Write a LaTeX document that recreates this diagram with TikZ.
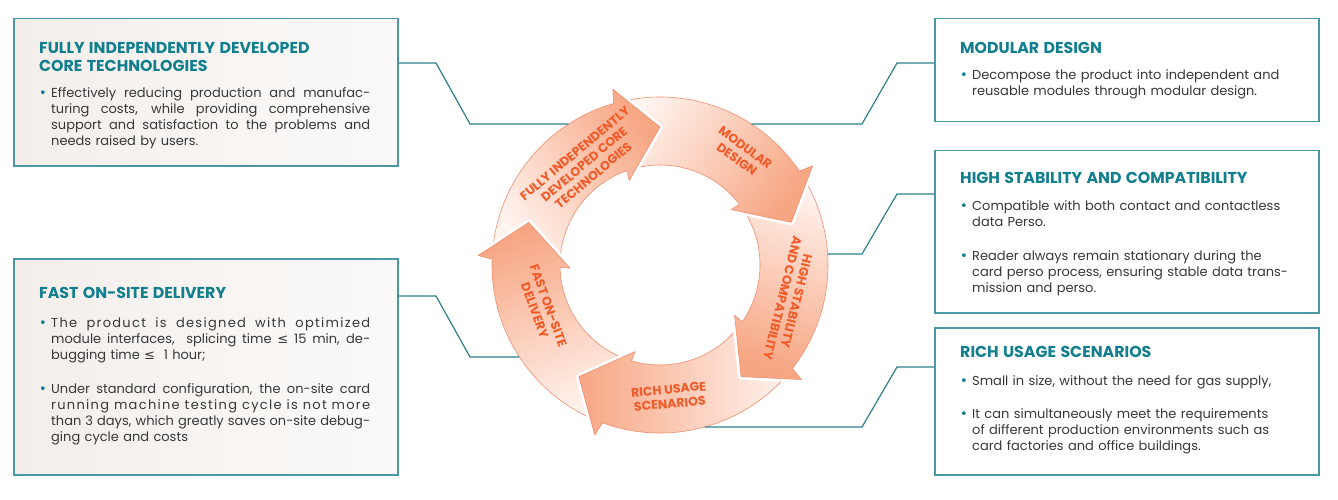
\documentclass[tikz,border=0pt]{standalone}
\usepackage{fontspec}
\setmainfont{Poppins}
\newfontfamily\symf{DejaVu Sans}
\usetikzlibrary{positioning}
\definecolor{headc}{HTML}{127F8E}
\definecolor{framec}{HTML}{4A98A6}
\definecolor{linkc}{HTML}{2E7F8C}
\definecolor{bodyc}{HTML}{383838}
\definecolor{boxl}{HTML}{F4EEEA}
\definecolor{boxr}{HTML}{FBFAF9}
\definecolor{ringlo}{HTML}{FFF3EE}
\definecolor{ringhi}{HTML}{F7A683}
\definecolor{ringline}{HTML}{EE8F70}
\definecolor{ringtxt}{HTML}{F15A29}
\newcommand{\headf}{\fontsize{15.8}{18}\selectfont\bfseries\color{headc}}
\newcommand{\jl}[1]{\makebox[319pt][s]{\spaceskip=\fontdimen2\font plus 1fil\relax #1}\\}
\newcommand{\wide}{\addfontfeature{LetterSpace=10}}
\newcommand{\bul}[2]{\noindent\makebox[12pt][l]{\textcolor{headc}{\symf •}}\parbox[t]{#1}{\strut#2\strut}\par}
\newcommand{\segment}[1]{({#1+86}:168) arc[start angle={#1+86}, end angle={#1+16}, radius=168] -- ({#1+15}:182) -- (#1:138) -- ({#1+20}:90) -- ({#1+19.4}:100) arc[start angle={#1+19.4}, end angle={#1+86}, radius=100] -- cycle}

\begin{document}
\begin{tikzpicture}[x=1pt, y=1pt,
  box/.style={draw=framec, line width=1.5pt, minimum width=384pt, anchor=north west, inner sep=0pt},
  lbox/.style={box, left color=boxl, right color=boxr},
  rbox/.style={box, fill=white},
  txt/.style={text width=345pt, align=left, inner sep=0pt, text=bodyc, font=\fontsize{13}{16}\selectfont},
  seg/.style={top color=ringlo, bottom color=ringhi, draw=ringline, line width=0.6pt, line join=round,
    preaction={draw=white, line width=6pt, line join=round}},
  lab/.style={text=ringtxt, font=\fontsize{12.5}{14.5}\selectfont\bfseries, align=center, inner sep=0pt},
  link/.style={draw=linkc, line width=1.2pt}]
  \useasboundingbox (0,0) rectangle (1338,499);
  \node[lbox, minimum height=147pt] (tl) at (13,481) {};
  \node[lbox, minimum height=216pt] (bl) at (13,241) {};
  \node[rbox, minimum height=103pt] (tr) at (934,481) {};
  \node[rbox, minimum height=162pt] (mr) at (934,349) {};
  \node[rbox, minimum height=147pt] (br) at (934,172) {};
  \node[txt, below right=24.5pt and 26pt of tl.north west] (tlt) {{\headf FULLY INDEPENDENTLY DEVELOPED\\CORE TECHNOLOGIES\par}\vspace{10pt}
    \bul{319pt}{\jl{Effectively reducing production and manufac-}\jl{turing costs, while providing comprehensive}\jl{support and satisfaction to the problems and}needs raised by users.}};
  \node[txt, below right=29.5pt and 26pt of bl.north west] (blt) {{\headf FAST ON-SITE DELIVERY\par}\vspace{13pt}
    \bul{319pt}{\jl{\wide The product is designed with optimized}\jl{module interfaces,\ \ splicing time {\symf ≤} 15 min, de-}bugging time {\symf ≤}\ \ 1 hour;}\vspace{17pt}
    \bul{319pt}{\jl{Under standard configuration, the on-site card}\jl{\wide running machine testing cycle is not more}\jl{than 3 days, which greatly saves on-site debug-}ging cycle and costs}};
  \node[txt, below right=24.5pt and 26pt of tr.north west] (trt) {{\headf MODULAR DESIGN\par}\vspace{10pt}
    \bul{330pt}{Decompose the product into independent and\\reusable modules through modular design.}};
  \node[txt, below right=22.5pt and 26pt of mr.north west] (mrt) {{\headf HIGH STABILITY AND COMPATIBILITY\par}\vspace{11pt}
    \bul{330pt}{Compatible with both contact and contactless\\data Perso.}\vspace{17pt}
    \bul{330pt}{Reader always remain stationary during the\\card perso process, ensuring stable data trans-\\mission and perso.}};
  \node[txt, below right=19.5pt and 26pt of br.north west] (brt) {{\headf RICH USAGE SCENARIOS\par}\vspace{12pt}
    \bul{330pt}{Small in size, without the need for gas supply,}\vspace{17pt}
    \bul{330pt}{It can simultaneously meet the requirements\\of different production environments such as\\card factories and office buildings.}};
  \begin{scope}[shift={(660,234)}]
    \foreach \t in {162,234,306,18,90} \path[seg, shading angle=\t+36] \segment{\t};
    \begin{scope}
      \clip (0,0) -- (150:260) arc[start angle=150, end angle=215, radius=260] -- cycle;
      \path[seg, shading angle=198] \segment{162};
    \end{scope}
    \node[lab, rotate=40] (s1) at (127:126) {FULLY INDEPENDENTLY\\DEVELOPED CORE\\TECHNOLOGIES};
    \node[lab, rotate=-36] (s2) at (54:138) {MODULAR\\DESIGN};
    \node[lab, rotate=-104] (s3) at (-15:134) {HIGH STABILITY\\AND COMPATIBILITY};
    \node[lab, rotate=5] (s4) at (-86:132) {RICH USAGE\\SCENARIOS};
    \node[lab, rotate=-70] (s5) at (200:126) {FAST ON-SITE\\DELIVERY};
    \coordinate (e1) at (-91.3,141);
    \coordinate (e2) at (91.3,141);
    \coordinate (e3) at (167.6,11);
    \coordinate (e4) at (44.5,-162);
    \coordinate (e5) at (-140.6,-92);
  \end{scope}
  \coordinate (k1) at (436,436);
  \coordinate (k2) at (897,436);
  \coordinate (k3) at (897,305);
  \coordinate (k4) at (897,132);
  \coordinate (k5) at (436,203);
  \draw[link] (tl.east |- k1) -- (k1) -- (470,375) -- (e1);
  \draw[link] (tr.west |- k2) -- (k2) -- (862,375) -- (e2);
  \draw[link] (mr.west |- k3) -- (k3) -- (862,245) -- (e3);
  \draw[link] (br.west |- k4) -- (k4) -- (862,72) -- (e4);
  \draw[link] (bl.east |- k5) -- (k5) -- (470,142) -- (e5);
\end{tikzpicture}
\end{document}
